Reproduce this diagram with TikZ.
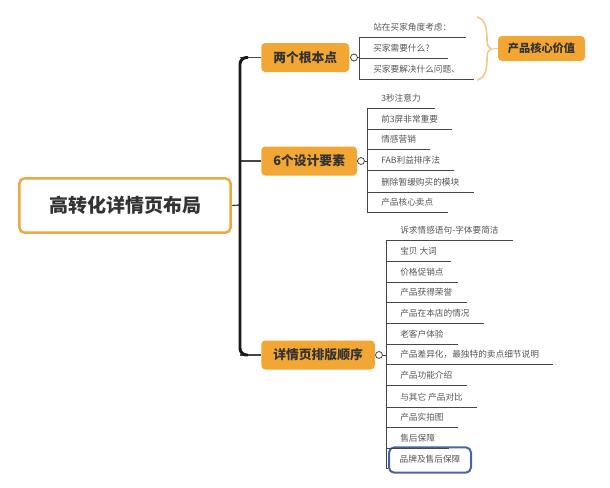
\documentclass[tikz,border=0pt]{standalone}
\usepackage{fontspec}
\setmainfont{Noto Sans CJK SC}
\usepackage{tikz}
\usetikzlibrary{calc}

\definecolor{nodeorange}{RGB}{242,166,52}
\definecolor{rootorange}{RGB}{232,170,68}
\definecolor{bracecol}{RGB}{243,200,140}
\definecolor{selblue}{RGB}{70,100,160}
\definecolor{textdark}{RGB}{51,51,51}
\definecolor{textgray}{RGB}{85,85,85}
\definecolor{linegray}{RGB}{70,70,70}

\begin{document}
\begin{tikzpicture}[x=0.75pt, y=-0.75pt,
	root/.style={draw=rootorange, line width=1.9pt, fill=white, rounded corners=4pt, minimum width=158.5pt, minimum height=40.8pt, font=\fontsize{14.25}{16}\selectfont\bfseries, text=textdark},
	topic/.style={fill=nodeorange, rounded corners=3pt, anchor=west, inner xsep=9pt, minimum height=21.75pt, font=\fontsize{9.6}{11}\selectfont\bfseries, text=textdark},
	leaf/.style={anchor=south west, inner xsep=10.5pt, inner ysep=3.6pt, text height=5.3pt, text depth=1pt, font=\fontsize{6.5}{7.5}\selectfont, text=textgray},
	toggle/.style={circle, draw=linegray, fill=white, line width=0.6pt, minimum size=5.2pt, inner sep=0pt},
	stem/.style={draw=linegray, line width=0.75pt},
	branch/.style={draw=linegray, line width=1pt},
	trunk/.style={draw=black!90, line width=2.2pt, rounded corners=5pt},
	brace/.style={draw=bracecol, line width=1.2pt},
	sel/.style={draw=selblue, line width=1.5pt, rounded corners=4pt}]
	\useasboundingbox (0,0) rectangle (610,487);
\node[root] (root) at (125,205.5) {高转化详情页布局}; % root
\coordinate (spine) at (240,205) ;
\node[topic] (b1) at (261,57.5) {两个根本点}; % b1
\node[topic] (b2) at (261,161) {6个设计要素}; % b2
\node[topic] (b3) at (261,355) {详情页排版顺序}; % b3
\draw[branch] (root.east) -- (spine) ;
\draw[branch] (spine |- b1.west) -- (b1.west) ;
\draw[branch] (spine |- b2.west) -- (b2.west) ;
\draw[branch] (spine |- b3.west) -- (b3.west) ;
\draw[trunk] ($(spine |- b1.west)+(8,0)$) -| (spine) |- ($(spine |- b3.west)+(8,0)$) ; % trunk
\node[toggle] (t1) at (354,57.5) {};
\node[toggle] (t2) at (361,161) {};
\node[toggle] (t3) at (379,355) {};
\draw[branch] (b1.east) -- (t1) ;
\draw[branch] (b2.east) -- (t2) ;
\draw[branch] (b3.east) -- (t3) ;
% b1 leaves
\node[leaf] (c1a) at (359,37) {站在买家角度考虑：};
\node[leaf] (c1b) at (359,58) {买家需要什么？};
\node[leaf] (c1c) at (359,79) {买家要解决什么问题、};
\draw[stem] (t1.east) -| (c1a.south west) -- (c1a.south east) ;
\draw[stem] (t1.east) -| (c1b.south west) -- (c1b.south east) ;
\draw[stem] (t1.east) -| (c1c.south west) -- (c1c.south east) ;
\coordinate (tip) at (491,49) ;
\draw[brace] (477,17) .. controls (486,19) and (487,30) .. (487,40) .. controls (487,46) and (489,48) .. (tip) .. controls (489,50) and (487,52) .. (487,58) .. controls (487,68) and (486,78) .. (477,80) ; % brace
\node[topic, anchor=center, minimum width=65.25pt, minimum height=18.75pt, inner xsep=6pt, font=\fontsize{8.4}{10}\selectfont\bfseries] (val) at (541.5,48.5) {产品核心价值};
\draw[brace, line width=0.8pt] (tip) -- (val.west) ;
% b2 leaves
\node[leaf] (c2a) at (367,108) {3秒注意力};
\node[leaf] (c2b) at (367,129) {前3屏非常重要};
\node[leaf] (c2c) at (367,149) {情感营销};
\node[leaf] (c2d) at (367,170) {FAB利益排序法};
\node[leaf] (c2e) at (367,192) {删除暂缓购买的模块};
\node[leaf] (c2f) at (367,212) {产品核心卖点};
\draw[stem] (t2.east) -| (c2a.south west) -- (c2a.south east) ;
\draw[stem] (t2.east) -| (c2b.south west) -- (c2b.south east) ;
\draw[stem] (t2.east) -| (c2c.south west) -- (c2c.south east) ;
\draw[stem] (t2.east) -| (c2d.south west) -- (c2d.south east) ;
\draw[stem] (t2.east) -| (c2e.south west) -- (c2e.south east) ;
\draw[stem] (t2.east) -| (c2f.south west) -- (c2f.south east) ;
% b3 leaves
\node[leaf] (c3a) at (386,240) {诉求情感语句-字体要简洁};
\node[leaf] (c3b) at (386,261) {宝贝 大词};
\node[leaf] (c3c) at (386,282) {价格促销点};
\node[leaf] (c3d) at (386,302) {产品获得荣誉};
\node[leaf] (c3e) at (386,323) {产品在本店的情况};
\node[leaf] (c3f) at (386,344) {老客户体验};
\node[leaf] (c3g) at (386,364) {产品差异化，最独特的卖点细节说明};
\node[leaf] (c3h) at (386,385) {产品功能介绍};
\node[leaf] (c3i) at (386,407) {与其它 产品对比};
\node[leaf] (c3j) at (386,427) {产品实拍图};
\node[leaf] (c3k) at (386,448) {售后保障};
\node[leaf, anchor=west, inner xsep=8pt, inner ysep=6.4pt, sel] (c3l) at (388,460) {品牌及售后保障};
\coordinate (e3) at (386,468) ;
\draw[stem] (t3.east) -| (c3a.south west) -- (c3a.south east) ;
\draw[stem] (t3.east) -| (c3b.south west) -- (c3b.south east) ;
\draw[stem] (t3.east) -| (c3c.south west) -- (c3c.south east) ;
\draw[stem] (t3.east) -| (c3d.south west) -- (c3d.south east) ;
\draw[stem] (t3.east) -| (c3e.south west) -- (c3e.south east) ;
\draw[stem] (t3.east) -| (c3f.south west) -- (c3f.south east) ;
\draw[stem] (t3.east) -| (c3g.south west) -- (c3g.south east) ;
\draw[stem] (t3.east) -| (c3h.south west) -- (c3h.south east) ;
\draw[stem] (t3.east) -| (c3i.south west) -- (c3i.south east) ;
\draw[stem] (t3.east) -| (c3j.south west) -- (c3j.south east) ;
\draw[stem] (t3.east) -| (c3k.south west) -- (c3k.south east) ;
\draw[stem] (t3.east) -| (e3) -- (e3 -| c3l.west) ;
\end{tikzpicture}
\end{document}
